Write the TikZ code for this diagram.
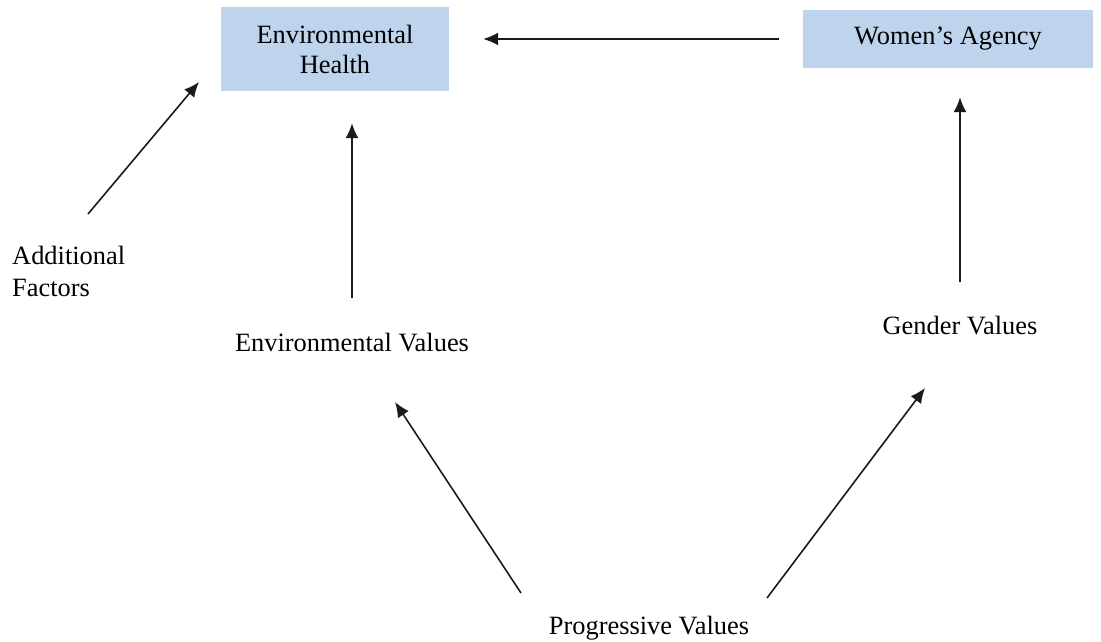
\documentclass[tikz,border=0pt]{standalone}
\usepackage{fontspec}
\setmainfont{Liberation Serif}
\usetikzlibrary{arrows.meta}
\definecolor{boxblue}{HTML}{BDD4EC}
\definecolor{lineclr}{HTML}{1A1A1A}
\tikzset{
  box/.style={fill=boxblue, draw=none, align=center, font=\fontsize{26.4}{30}\selectfont, inner sep=0pt},
  lbl/.style={inner sep=0pt, text height=18pt, text depth=5pt, font=\fontsize{26.4}{32}\selectfont},
  arr/.style={draw=lineclr, line width=1.6pt, -{Latex[length=15pt,width=13pt]}}
}
\begin{document}
\begin{tikzpicture}[x=1pt,y=-1pt]
\useasboundingbox (0,0) rectangle (1101,642);
\node[box, minimum width=228pt, minimum height=84pt] (EH) at (335,49) {Environmental\\Health};
\node[box, minimum width=290pt, minimum height=58pt] (WA) at (948,39) {Women’s Agency};
\node[lbl, anchor=west, align=left, text height=, text depth=] (AF) at (12,271) {Additional\\Factors};
\node[lbl] (EV) at (352,345) {Environmental Values};
\node[lbl] (GV) at (960,328) {Gender Values};
\node[lbl] (PV) at (649,628) {Progressive Values};
\coordinate (afTail) at (88,214);
\coordinate (afHead) at (199,82);
\coordinate (pvL) at (521,593);
\coordinate (evHead) at (395,402);
\coordinate (pvR) at (767,598);
\coordinate (gvHead) at (925,388);
\draw[arr, shorten <=24pt, shorten >=34pt] (WA.west) -- (WA.west -| EH.east);
\draw[arr, shorten <=35.5pt, shorten >=32pt] (EV.north) -- (EV.north |- EH.south);
\draw[arr, shorten <=34.5pt, shorten >=29pt] (GV.north) -- (GV.north |- WA.south);
\draw[arr] (afTail) -- (afHead);
\draw[arr] (pvL) -- (evHead);
\draw[arr] (pvR) -- (gvHead);
\end{tikzpicture}
\end{document}
